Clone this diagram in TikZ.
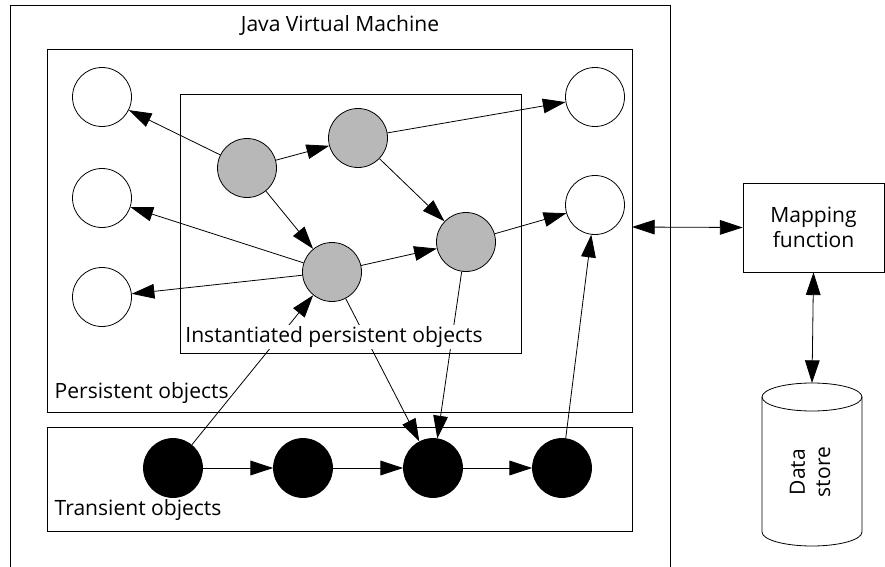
\documentclass[tikz,border=0pt]{standalone}
\usepackage{fontspec}
\setmainfont{Open Sans}
\usetikzlibrary{arrows.meta}

\begin{document}
\begin{tikzpicture}
  [x=0.75pt,y=-0.75pt,line width=0.6pt,
   obj/.style={circle,draw,inner sep=0pt,minimum size=44.25pt},
   pobj/.style={obj,fill=white},
   iobj/.style={obj,fill=black!28},
   tobj/.style={obj,fill=black},
   arr/.style={-{Triangle[length=17pt,width=11pt]}},
   darr/.style={{Triangle[length=17pt,width=11pt]}-{Triangle[length=17pt,width=11pt]}},
   lbl/.style={font=\fontsize{15.8}{19}\selectfont,inner sep=1pt}]
  \useasboundingbox (0,0) rectangle (885,567);

  % boxes
  \draw (10,567) -- (10,5) -- (670,5) -- (670,567);
  \draw (47,49) rectangle (632,412);
  \draw (180,94) rectangle (521,353);
  \draw (47,427) rectangle (632,531);
  \node[lbl] (jvm) at (340,25) {Java Virtual Machine};
  \node[lbl,anchor=west] (plbl) at (53,393) {Persistent objects};
  \node[lbl,anchor=west] (tlbl) at (53,510) {Transient objects};

  % persistent objects
  \node[pobj] (w1) at (102,97) {};
  \node[pobj] (w2) at (102,198) {};
  \node[pobj] (w3) at (102,297) {};
  \node[pobj] (r1) at (595,97) {};
  \node[pobj] (r2) at (595,205) {};

  % instantiated
  \node[iobj] (g1) at (247,168) {};
  \node[iobj] (g2) at (358,138) {};
  \node[iobj] (g3) at (332,272) {};
  \node[iobj] (g4) at (466,242) {};

  % transient
  \node[tobj] (b1) at (173,468) {};
  \node[tobj] (b2) at (303,468) {};
  \node[tobj] (b3) at (433,468) {};
  \node[tobj] (b4) at (562,468) {};

  \foreach \from/\to in {g1/w1,g1/g2,g1/g3,g2/r1,g2/g4,g3/w2,g3/w3,g3/g4,
      g4/r2,g3/b3,g4/b3,b1/g3,b1/b2,b2/b3,b3/b4,b4/r2}
    \draw[arr] (\from) -- (\to);

  \node[lbl,fill=white] (ilbl) at (334,337) {Instantiated persistent objects};

  % mapping and store
  \node[draw,lbl,align=center,minimum width=105.75pt,minimum height=66.75pt,inner sep=2pt]
    (map) at (813.5,227.5) {Mapping\\function};
  \draw (762,397) -- (762,532) arc (180:360:37.5pt and 10.5pt) -- (862,397);
  \draw (812,397) ellipse (37.5pt and 10.5pt);
  \node[lbl,rotate=90,align=center] (store) at (810,472) {Data\\store};
  \coordinate (stop) at (812,383);
  \coordinate (pe) at (632,227);
  \draw[darr] (pe) -- (map.west);
  \draw[darr] (map.south) -- (stop);
\end{tikzpicture}
\end{document}
